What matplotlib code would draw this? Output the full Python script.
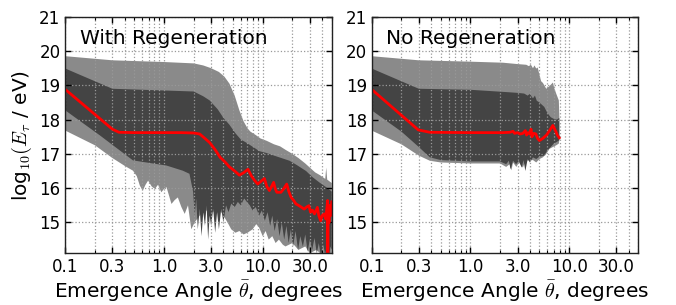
import numpy as np
import matplotlib
matplotlib.use("Agg")
import matplotlib.pyplot as plt
from matplotlib.ticker import LogLocator, NullFormatter

plt.rcParams['font.family'] = ['DejaVu Sans']
plt.rcParams['mathtext.fontset'] = 'cm'

# ---------------- data: With Regeneration ----------------
L_out_hi_x = [0.1, 0.3, 1.0, 2.0, 2.5, 3.0, 3.6, 4.1, 4.6, 5.2, 5.8, 6.4, 7.0, 7.5, 8.5,
              9.5, 11, 13, 15, 17, 20, 23, 27, 30, 34, 38, 43, 44, 45, 50]
L_out_hi_y = [19.85, 19.73, 19.68, 19.64, 19.58, 19.5, 19.39, 19.25, 19.05, 18.7, 18.27, 17.95,
              17.75, 17.65, 17.55, 17.45, 17.38, 17.28, 17.22, 17.12, 17.0, 16.88, 16.72, 16.6,
              16.46, 16.38, 16.27, 16.6, 16.25, 16.15]
L_out_lo_x = [0.1, 0.2, 0.3, 0.4, 0.485, 0.53, 0.57, 0.61, 0.65, 0.69, 0.75, 0.81, 0.87, 0.94,
              1.0, 1.06, 1.12, 1.19, 1.28, 1.38, 1.5, 1.62, 1.75, 1.89, 2.04, 2.3, 2.7, 3.1,
              3.6, 4.0, 4.4, 4.8, 5.3, 5.8, 6.4, 7.0, 7.9, 8.6, 9.2, 10, 10.7, 11.5, 12.5, 13.5,
              14.6, 16, 17, 20, 23, 27, 30, 35, 40, 45, 50]
L_out_lo_y = [17.68, 17.25, 16.88, 16.65, 16.51, 16.35, 16.07, 15.93, 16.1, 16.22, 16.05, 15.98,
              16.1, 15.88, 15.98, 16.03, 15.8, 15.54, 15.65, 15.73, 15.45, 15.25, 15.5, 14.8,
              15.0, 15.2, 15.35, 15.3, 15.4, 15.2, 15.0, 14.8, 14.7, 14.75, 14.65, 14.7, 14.8,
              14.95, 14.85, 14.6, 14.75, 14.5, 14.6, 14.4, 14.5, 14.35, 14.3, 14.4, 14.2, 14.3,
              14.1, 14.2, 14.05, 14.15, 14.0]
L_in_hi_x = [0.1, 0.3, 1.0, 2.0, 2.5, 2.9, 3.5, 4.0, 4.6, 5.3, 6.0, 6.8, 8.0, 9.25, 10.8, 14,
             18.7, 22, 27.5, 32, 37.4, 45.4, 50]
L_in_hi_y = [19.49, 18.9, 18.85, 18.82, 18.68, 18.56, 18.3, 18.05, 17.85, 17.6, 17.42, 17.33,
             17.2, 17.08, 17.03, 16.92, 16.8, 16.68, 16.5, 16.32, 16.17, 16.0, 15.9]
L_in_lo_x = [0.1, 0.224, 0.357, 0.485, 1.06, 1.55, 1.81, 1.97, 2.05, 2.12, 2.2, 2.3, 2.4, 2.5,
             2.6, 2.7, 2.8, 2.9, 3.0, 3.15, 3.3, 3.45, 3.6, 3.8, 4.0, 4.25, 4.5, 4.8, 5.2, 5.6,
             6.0, 6.5, 6.9, 7.4, 7.9, 8.5, 9.2, 9.8, 10.5, 11.2, 11.9, 12.5, 13.2, 14, 14.8,
             15.6, 16.5, 17.4, 18.3, 19.3, 20.3, 21.5, 22.8, 24, 25.5, 27, 28.5, 30, 31.7,
             33.5, 35.3, 37, 39, 41, 43, 45, 47, 48.5, 50]
L_in_lo_y = [18.27, 17.54, 17.1, 16.81, 16.66, 16.51, 16.42, 15.9, 15.2, 15.7, 14.8, 15.4,
             14.6, 15.3, 14.9, 15.5, 14.5, 15.2, 14.9, 15.4, 14.7, 15.3, 14.8, 15.4, 15.0,
             15.5, 15.3, 15.55, 15.45, 15.6, 15.5, 15.7, 15.6, 15.5, 15.35, 15.45, 15.2,
             15.35, 15.05, 15.3, 14.9, 15.2, 14.75, 15.1, 14.6, 15.0, 14.5, 14.9, 14.4, 14.8,
             14.3, 14.75, 14.2, 14.6, 14.3, 14.65, 14.15, 14.5, 14.2, 14.55, 14.1, 14.4, 14.0,
             14.35, 14.05, 14.4, 14.0, 14.3, 14.2]
L_med_x = [0.1, 0.3, 0.35, 0.5, 1.0, 1.5, 2.0, 2.3, 2.6, 2.9, 3.3, 3.7, 4.1, 4.6, 5.2, 5.8,
           6.4, 7.1, 7.7, 8.3, 8.9, 9.6, 10.4, 11.0, 11.7, 12.3, 12.9, 13.4, 13.9, 15.3, 16.3,
           17.5, 18.4, 19.4, 20.5, 21.7, 23, 24.5, 26.3, 27.8, 29.4, 30.5, 31.8, 33.5, 35.8,
           37, 38.6, 40, 41.9, 43.5, 45.0, 45.4, 45.6, 46, 47, 48, 49, 50]
L_med_y = [18.88, 17.72, 17.63, 17.62, 17.62, 17.62, 17.61, 17.58, 17.45, 17.33, 17.12, 16.9,
           16.78, 16.62, 16.5, 16.38, 16.45, 16.55, 16.35, 16.22, 16.12, 16.2, 16.28, 16.05,
           15.93, 16.05, 16.17, 15.98, 15.88, 15.88, 15.98, 16.12, 15.9, 15.73, 15.65, 15.54,
           15.5, 15.45, 15.39, 15.45, 15.49, 15.3, 15.36, 15.25, 15.44, 15.2, 15.05, 15.2,
           15.25, 15.1, 15.5, 15.64, 14.0, 15.3, 15.0, 15.5, 15.2, 15.6]

# ---------------- data: No Regeneration ----------------
R_out_hi_x = [0.1, 0.3, 1.0, 2.14, 3.0, 3.68, 3.9, 4.1, 4.3, 4.45, 4.64, 4.8, 5.01, 5.2, 5.42,
              5.86, 6.33, 6.84, 7.1, 7.39, 7.86, 7.95]
R_out_hi_y = [19.85, 19.73, 19.69, 19.66, 19.62, 19.6, 19.56, 19.6, 19.5, 19.58, 19.49, 19.52,
              19.3, 19.12, 19.07, 18.9, 18.98, 19.08, 18.9, 18.76, 18.56, 18.1]
R_out_lo_x = [0.1, 0.2, 0.3, 0.388, 0.5, 1.0, 2.0, 2.3, 2.5, 2.6, 2.7, 2.92, 3.1, 3.4, 3.6,
              4.3, 4.64, 5.01, 5.42, 5.86, 6.33, 6.84, 7.39, 7.86, 7.95]
R_out_lo_y = [17.68, 17.28, 16.95, 16.8, 16.75, 16.72, 16.72, 16.62, 16.7, 16.52, 16.75, 16.62,
              16.75, 16.6, 16.8, 16.82, 16.75, 16.85, 16.9, 17.0, 17.15, 17.2, 17.25, 17.3, 17.4]
R_in_hi_x = [0.1, 0.3, 1.0, 2.4, 3.0, 3.5, 3.8, 4.0, 4.3, 4.5, 4.7, 5.0, 5.6, 6.0, 6.5, 7.0,
             7.5, 7.95]
R_in_hi_y = [19.49, 18.9, 18.87, 18.8, 18.78, 18.76, 18.7, 18.75, 18.62, 18.7, 18.55, 18.5,
             18.37, 18.2, 18.07, 18.02, 18.0, 18.05]
R_in_lo_x = [0.1, 0.2, 0.3, 0.388, 0.5, 1.0, 2.0, 2.3, 2.45, 2.55, 2.7, 2.9, 3.1, 3.3, 3.45,
             3.6, 3.8, 4.0, 4.3, 4.64, 5.0, 5.6, 6.0, 6.5, 7.0, 7.5, 7.95]
R_in_lo_y = [18.27, 17.65, 17.2, 16.9, 16.82, 16.78, 16.78, 16.7, 16.8, 16.55, 16.8, 16.7,
             16.8, 16.6, 16.82, 16.5, 16.85, 16.75, 16.9, 16.85, 16.92, 16.95, 17.1, 17.2,
             17.3, 17.35, 17.4]
R_med_x = [0.1, 0.296, 0.388, 1.0, 2.14, 2.5, 2.7, 2.8, 3.0, 3.2, 3.4, 3.6, 3.7, 3.85, 4.0,
           4.11, 4.2, 4.27, 4.4, 4.6, 4.8, 5.0, 5.4, 5.9, 6.4, 6.84, 7.2, 7.6, 7.93]
R_med_y = [18.88, 17.7, 17.63, 17.62, 17.62, 17.63, 17.66, 17.6, 17.62, 17.58, 17.6, 17.68,
           17.55, 17.62, 17.58, 17.72, 17.5, 17.55, 17.6, 17.58, 17.45, 17.39, 17.45, 17.55,
           17.7, 17.83, 17.7, 17.55, 17.47]

xticks = [0.1, 0.3, 1.0, 3.0, 10.0, 30.0]
xticklabels = ['0.1', '0.3', '1.0', '3.0', '10.0', '30.0']
yticks = [15, 16, 17, 18, 19, 20, 21]
titles = ['With Regeneration', 'No Regeneration']

LIGHT = '#8a8a8a'
DARK = '#444444'


def band(ax, xh, yh, xl, yl, color):
    xs = np.concatenate([np.asarray(xh, float), np.asarray(xl, float)[::-1]])
    ys = np.concatenate([np.asarray(yh, float), np.asarray(yl, float)[::-1]])
    ax.fill(xs, ys, color=color, lw=0, zorder=1)


fig = plt.figure(figsize=(6.76, 3.05), dpi=100)
ax1 = fig.add_axes([0.0966, 0.1695, 0.3941, 0.7755])
ax2 = fig.add_axes([0.5499, 0.1695, 0.3941, 0.7755])

panels = [
    (ax1, L_out_hi_x, L_out_hi_y, L_out_lo_x, L_out_lo_y, L_in_hi_x, L_in_hi_y,
     L_in_lo_x, L_in_lo_y, L_med_x, L_med_y),
    (ax2, R_out_hi_x, R_out_hi_y, R_out_lo_x, R_out_lo_y, R_in_hi_x, R_in_hi_y,
     R_in_lo_x, R_in_lo_y, R_med_x, R_med_y),
]

for i, (ax, ohx, ohy, olx, oly, ihx, ihy, ilx, ily, mx, my) in enumerate(panels):
    band(ax, ohx, ohy, olx, oly, LIGHT)
    band(ax, ihx, ihy, ilx, ily, DARK)
    ax.plot(mx, my, color='red', lw=2, zorder=4)
    ax.set_xscale('log')
    ax.set_xlim(0.1, 50)
    ax.set_ylim(14.1, 21)
    ax.set_xticks(xticks)
    ax.set_xticklabels(xticklabels)
    ax.xaxis.set_minor_locator(LogLocator(base=10, subs=np.arange(2, 10)))
    ax.xaxis.set_minor_formatter(NullFormatter())
    ax.set_yticks(yticks)
    ax.tick_params(which='both', direction='in', top=True, right=True, labelsize=12)
    ax.tick_params(which='major', length=4.5, width=1)
    ax.tick_params(which='minor', length=2, width=0.8)
    ax.grid(True, which='both', axis='x', color='0.6', linestyle=':', lw=0.9, zorder=3)
    ax.grid(True, which='major', axis='y', color='0.6', linestyle=':', lw=0.9, zorder=3)
    ax.set_axisbelow(False)
    for s in ax.spines.values():
        s.set_linewidth(1.0)
        s.set_color('#222222')
        s.set_zorder(5)
    ax.set_xlabel(r'Emergence Angle $\bar{\theta}$, degrees', fontsize=14.5, labelpad=2)
    ax.text(0.055, 0.885, titles[i], transform=ax.transAxes, fontsize=14.5,
            ha='left', va='baseline', zorder=6)

ax1.set_ylabel(r'log$_{10}(E_\tau$ / eV)', fontsize=14.5, labelpad=4)

fig.savefig('out.png', dpi=100)
